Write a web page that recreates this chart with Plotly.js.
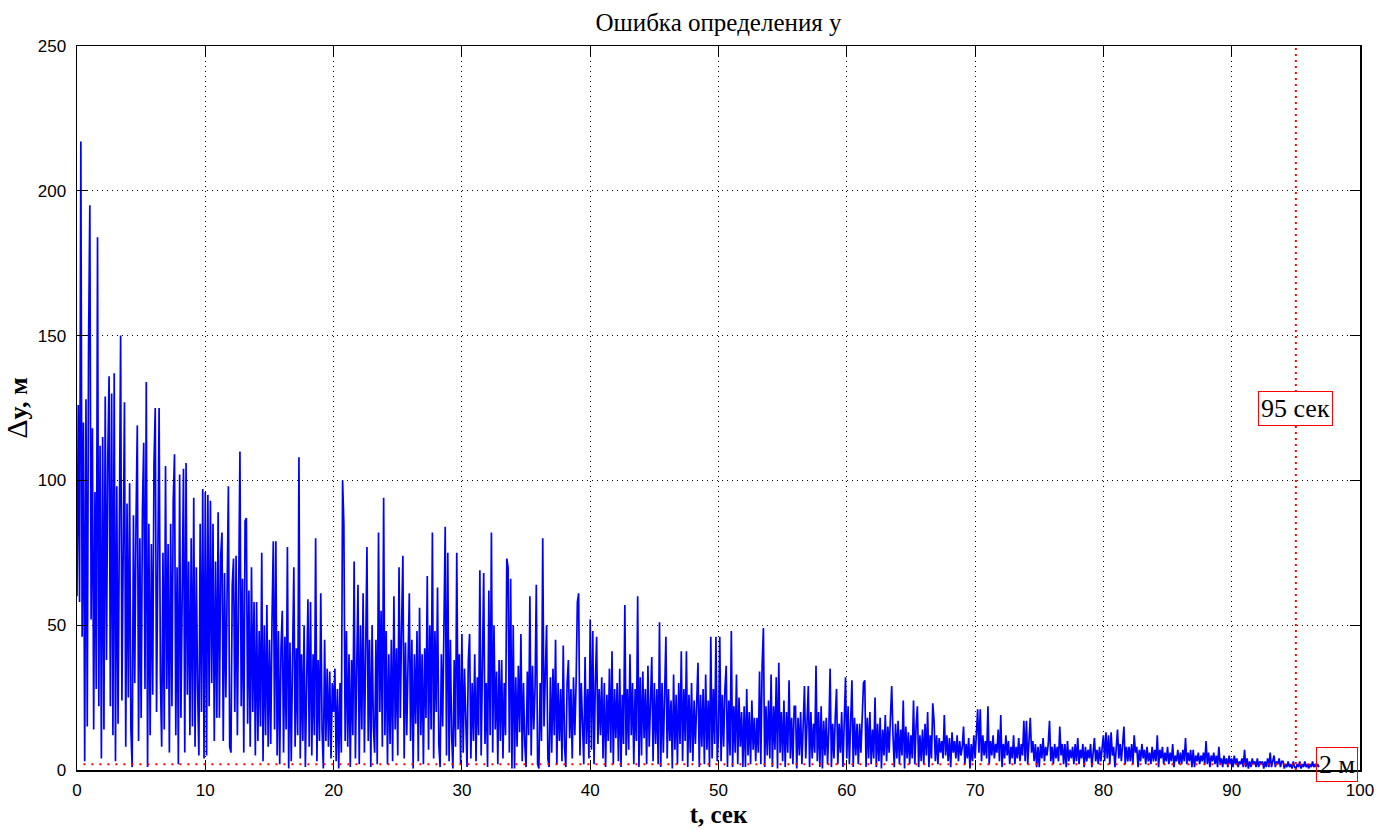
<!DOCTYPE html>
<html>
<head>
<meta charset="utf-8">
<script src="https://cdn.plot.ly/plotly-3.0.1.min.js"></script>
<style>
  html, body { margin: 0; padding: 0; background: #ffffff; }
  #chart { width: 1392px; height: 830px; }
</style>
</head>
<body>
<div id="chart"></div>
<script>
// Sampling step of the error record, seconds
const sampleStep = 0.1;

// Error in y (metres), one array per 10-second stretch, sampled every 0.1 s
const err00_10 = [
  60,126,58,217,46,120,3,128,15,146,
  195,52,118,14,96,28,184,22,112,4,
  115,14,129,38,108,136,22,130,12,137,
  3,98,16,110,150,24,88,127,8,92,
  25,99,14,1,88,30,86,119,10,80,
  18,90,113,28,134,1,85,12,78,26,
  106,125,20,80,125,32,8,75,14,105,
  28,78,6,85,22,93,109,12,70,2,
  102,18,76,104,6,106,26,72,12,80,
  15,94,8,70,28,5,85,20,97,4];
const err10_20 = [
  96,5,95,22,93,30,85,10,72,18,
  89,18,74,82,10,68,25,70,98,8,
  6,64,73,20,74,12,60,110,22,66,
  6,86,87,16,62,8,70,20,58,5,
  58,10,48,15,75,3,50,12,57,8,
  45,9,52,79,14,79,5,48,2,42,
  55,6,46,14,77,0.5,44,3,38,70,
  8,42,12,108,4,40,10,50,1,36,
  59,8,58,5,40,12,80,3,38,10,
  61,14,0.5,45,10,35,8,34,4,30];
const err20_30 = [
  20,35,3,28,0.5,30,6,100,85,10,
  48,8,40,1,38,12,72,4,45,64,
  2,50,14,61,6,48,77,10,45,1,
  50,15,6,45,2,82,20,55,8,94,
  12,48,2,40,9,45,3,60,14,42,
  5,70,18,50,74,4,44,12,38,61,
  10,45,0.5,40,16,48,3,56,12,40,
  2,42,18,67,7,50,14,82,4,48,
  20,63,9,1,40,15,50,84,5,75,
  3,45,12,0.5,38,8,75,14,40,2];
const err30_40 = [
  47,6,35,14,1,38,47,4,30,10,
  40,3,32,12,69,5,36,68,9,30,
  1,62,12,82,6,50,14,34,2,38,
  10,38,4,30,12,73,70,6,66,0.5,
  50,0.5,32,8,36,13,47,3,30,9,
  1,34,12,60,5,36,14,28,64,2,
  0.5,30,10,80,15,34,50,4,1,32,
  6,35,12,45,2,30,10,28,3,43,
  8,1,30,38,11,28,4,32,12,30,
  58,61,5,30,13,2,39,9,28,4];
const err40_50 = [
  52,7,48,2,30,46,9,28,12,32,
  4,30,1,26,10,35,6,41,2,28,
  11,30,3,35,1,26,9,57,5,28,
  7,40,12,30,2,28,10,60,1,32,
  5,34,11,28,2,36,8,26,39,3,
  30,9,28,2,51,1,30,6,26,46,
  4,28,10,24,0.5,33,7,26,2,30,
  9,41,3,28,10,41,1,26,6,30,
  3,24,9,28,37,1,26,8,28,2,
  33,7,24,1,46,4,28,9,46,3];
const err50_60 = [
  12,46,3,26,8,28,36,1,24,5,
  48,1,22,6,33,2,25,8,20,1,
  22,1,28,5,20,2,24,7,18,3,
  18,6,34,2,36,49,1,22,5,24,
  4,33,1,22,7,32,0.5,37,6,20,
  3,24,1,20,6,31,4,18,2,22,
  22,0.5,18,5,20,2,16,29,4,18,
  29,1,20,4,16,6,36,3,20,1,
  22,0.5,17,5,18,2,14,35,1,16,
  4,18,28,2,16,6,20,1,18,32];
const err60_70 = [
  4,22,2,18,31,1,18,5,16,2,
  16,6,20,30,31,1,18,4,20,2,
  14,4,25,1,16,3,18,0.5,14,5,
  19,3,15,6,18,29,12,1,16,4,
  17,2,14,5,24,0.5,15,4,13,2,
  12,4,24,2,15,22,1,12,3,14,
  2,16,5,20,1,12,4,23,17,3,
  12,2,11,6,10,4,19,5,12,3,
  11,1,13,6,10,4,12,3,10,5,
  8,15,2,9,4,11,0.5,9,3,12];
const err70_80 = [
  4,12,21,6,21,3,12,5,10,4,
  22,2,10,5,12,4,9,6,14,3,
  19,1,9,4,12,5,10,2,8,4,
  12,2,8,4,11,3,9,5,17,3,
  17,2,10,18,6,10,3,9,1,8,
  1,9,4,11,3,8,5,9,17,3,
  8,2,9,4,8,3,15,5,9,2,
  9,1,10,3,7,4,8,2,9,3,
  11,2,7,4,9,1,8,3,7,4,
  9,1,6,11,3,7,2,8,3,7];
const err80_90 = [
  12,3,13,4,12,2,13,5,8,1,
  9,14,4,9,3,8,15,2,8,3,
  8,3,9,2,12,6,8,1,7,3,
  9,4,7,2,8,3,6,2,8,3,
  7,3,12,1,7,4,8,2,6,3,
  8,2,6,3,9,1,5,3,7,2,
  6,2,7,3,11,2,6,3,7,1,
  7,1,5,3,6,2,5,3,6,2,
  10,2,6,1,5,3,6,2,5,1,
  8,2,4,1,5,2,4,1,5,2];
const err90_97 = [
  4,1,5,2,4,1,3,2,4,1,
  7,1,4,0.5,3,1,4,2,3,1,
  4,1,3,2,3,0.5,3,1,4,1,
  6,1,3,5,1,3,2,4,1,3,
  3,0.5,2,1,3,1,2,0.5,3,1,
  0.5,2,1,3,0.5,2,1,3,1,2,
  0.5,2,1,3,1,2,1,2,1];

// Reference levels marked on the chart
const thresholdTime = 95;        // s
const thresholdErr = 2;          // m
const thresholdErrSpan = [0.5, 97];
const timeLabel = '95 сек';
const errLabel = '2 м';

// Axis ticks
const xTicks = [0,10,20,30,40,50,60,70,80,90,100];
const yTicks = [0,50,100,150,200,250];

const errY = [].concat(err00_10, err10_20, err20_30, err30_40, err40_50,
                       err50_60, err60_70, err70_80, err80_90, err90_97);
const timeX = errY.map((_, i) => +(i * sampleStep).toFixed(3));

const serif = 'Liberation Serif, Times New Roman, serif';
const sans = 'Liberation Sans, Arial, sans-serif';

const trace = {
  x: timeX,
  y: errY,
  type: 'scatter',
  mode: 'lines',
  line: { color: '#0000ff', width: 1.7 },
  hoverinfo: 'x+y'
};

const axisCommon = {
  showline: true,
  linecolor: '#000000',
  linewidth: 1.5,
  mirror: 'ticks',
  ticks: 'inside',
  ticklen: 10,
  tickwidth: 1,
  tickcolor: '#000000',
  showgrid: true,
  gridcolor: '#000000',
  gridwidth: 1,
  griddash: '1px,4px',
  zeroline: false,
  tickfont: { family: sans, size: 17, color: '#000000' }
};

const layout = {
  width: 1392,
  height: 830,
  paper_bgcolor: '#ffffff',
  plot_bgcolor: '#ffffff',
  showlegend: false,
  margin: { l: 77, r: 32, t: 46, b: 60 },
  title: {
    text: 'Ошибка определения y',
    font: { family: serif, size: 25, color: '#000000' },
    x: 0.5, xref: 'paper',
    y: 0.973, yref: 'container', yanchor: 'middle'
  },
  xaxis: Object.assign({}, axisCommon, {
    range: [0, 100],
    tickvals: xTicks,
    ticktext: xTicks.map(String),
    ticklabelstandoff: 4,
    title: { text: '<b>t, сек</b>', font: { family: serif, size: 25, color: '#000000' }, standoff: 6 }
  }),
  yaxis: Object.assign({}, axisCommon, {
    range: [0, 250],
    tickvals: yTicks,
    ticktext: yTicks.map(String),
    ticklabelstandoff: 6,
    title: { text: '<span style="font-size:30px">Δ</span><b>y, м</b>', font: { family: serif, size: 26, color: '#000000' }, standoff: 12 }
  }),
  shapes: [
    {
      type: 'line', xref: 'x', yref: 'y', layer: 'above',
      x0: thresholdTime, x1: thresholdTime, y0: 0, y1: 250,
      line: { color: '#ff0000', width: 2, dash: '2px,4px' }
    },
    {
      type: 'line', xref: 'x', yref: 'y', layer: 'above',
      x0: thresholdErrSpan[0], x1: thresholdErrSpan[1], y0: thresholdErr, y1: thresholdErr,
      line: { color: '#ff0000', width: 2, dash: '2px,6px' }
    }
  ],
  annotations: [
    {
      x: thresholdTime, y: 125, xref: 'x', yref: 'y',
      text: timeLabel, showarrow: false,
      font: { family: serif, size: 26, color: '#000000' },
      bgcolor: '#ffffff', bordercolor: '#ff0000', borderwidth: 1, borderpad: 2
    },
    {
      x: 96.6, y: thresholdErr, xref: 'x', yref: 'y',
      xanchor: 'left', yanchor: 'middle',
      text: errLabel, showarrow: false,
      font: { family: serif, size: 26, color: '#000000' },
      bgcolor: 'rgba(255,255,255,0)', bordercolor: '#ff0000', borderwidth: 1, borderpad: 2
    }
  ]
};

Plotly.newPlot('chart', [trace], layout, { displayModeBar: false, staticPlot: true });
</script>
</body>
</html>
